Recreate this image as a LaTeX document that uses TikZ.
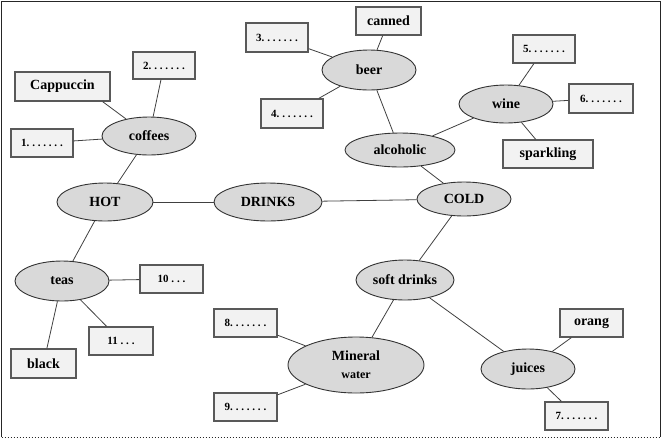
\documentclass[tikz,border=0pt]{standalone}
\usepackage{fontspec}
\setmainfont{Liberation Serif}
\usetikzlibrary{shapes.geometric}
\definecolor{ellfill}{HTML}{D9D9D9}
\definecolor{boxfill}{HTML}{F2F2F2}
\newcommand{\dg}{\kern2.8pt}
\begin{document}
\begin{tikzpicture}[x=1pt,y=-1pt,
  ell/.style={ellipse,draw=black!80,line width=0.9pt,fill=ellfill,inner sep=0pt,
    font=\fontsize{14}{18}\selectfont\bfseries},
  box/.style={rectangle,draw=black!65,line width=1.3pt,fill=boxfill,inner sep=0pt,
    font=\fontsize{14}{14}\selectfont\bfseries},
  num/.style={box,font=\fontsize{11}{11}\selectfont\bfseries},
  link/.style={draw=black!75,line width=0.8pt}]
\useasboundingbox (0,0) rectangle (661,440);
% frame
\draw[black!85,line width=1pt] (1.5,437) -- (1.5,1) -- (660,1) -- (660,437);
\draw[black!85,line width=1pt,dotted] (1.5,437) -- (660,437);

% ellipses
\node[ell,minimum width=94pt,minimum height=38pt] (coffees) at (149,136) {coffees};
\node[ell,minimum width=96pt,minimum height=38pt] (hot) at (105,202) {HOT};
\node[ell,minimum width=108pt,minimum height=38pt] (drinks) at (268,202) {DRINKS};
\node[ell,minimum width=94pt,minimum height=34pt] (cold) at (464,199) {COLD};
\node[ell,minimum width=94pt,minimum height=40pt] (beer) at (369,70) {beer};
\node[ell,minimum width=110pt,minimum height=34pt] (alcoholic) at (400,150) {alcoholic};
\node[ell,minimum width=94pt,minimum height=38pt] (wine) at (506,104) {wine};
\node[ell,minimum width=94pt,minimum height=40pt] (teas) at (62,281) {teas};
\node[ell,minimum width=98pt,minimum height=40pt] (soft) at (405,280) {soft drinks};
\node[ell,minimum width=136pt,minimum height=56pt,align=center] (mineral) at (356,365)
  {Mineral\\{\fontsize{12}{12}\selectfont water}};
\node[ell,minimum width=94pt,minimum height=40pt] (juices) at (528,369) {juices};

% boxes
\node[box,minimum width=95pt,minimum height=29pt] (cap) at (62.5,86.5) {Cappuccin};
\node[num,minimum width=62pt,minimum height=27pt] (n2) at (164,65.5) {2.\dg.\dg.\dg.\dg.\dg.\dg.};
\node[num,minimum width=62pt,minimum height=28pt] (n1) at (42,143) {1.\dg.\dg.\dg.\dg.\dg.\dg.};
\node[box,minimum width=65pt,minimum height=28pt] (canned) at (388.5,21) {canned};
\node[num,minimum width=62pt,minimum height=29pt] (n3) at (277,37.5) {3.\dg.\dg.\dg.\dg.\dg.\dg.};
\node[num,minimum width=62pt,minimum height=29pt] (n4) at (292,113.5) {4.\dg.\dg.\dg.\dg.\dg.\dg.};
\node[num,minimum width=62pt,minimum height=28pt] (n5) at (544,49) {5.\dg.\dg.\dg.\dg.\dg.\dg.};
\node[num,minimum width=64pt,minimum height=29pt] (n6) at (601,98.5) {6.\dg.\dg.\dg.\dg.\dg.\dg.};
\node[box,minimum width=90pt,minimum height=28pt] (spark) at (548,154) {sparkling};
\node[num,minimum width=63pt,minimum height=28pt] (n10) at (171.5,279) {10\dg.\dg.\dg.};
\node[num,minimum width=64pt,minimum height=28pt] (n11) at (121,341) {11\dg.\dg.\dg.};
\node[box,minimum width=65pt,minimum height=29pt] (black) at (43.5,363.5) {black};
\node[num,minimum width=63pt,minimum height=28pt] (n8) at (245.5,323) {8.\dg.\dg.\dg.\dg.\dg.\dg.};
\node[num,minimum width=63pt,minimum height=28pt] (n9) at (245.5,407) {9.\dg.\dg.\dg.\dg.\dg.\dg.};
\node[box,minimum width=63pt,minimum height=28pt] (orang) at (591.5,323) {orang};
\node[num,minimum width=63pt,minimum height=28pt] (n7) at (576.5,416) {7.\dg.\dg.\dg.\dg.\dg.\dg.};

% connectors
\draw[link] ([xshift=-8pt]cap.south east) -- (coffees);
\draw[link] (n2) -- (coffees);
\draw[link] (n1) -- (coffees);
\draw[link] (coffees) -- (hot);
\draw[link] (hot) -- (drinks);
\draw[link] (drinks) -- (cold);
\draw[link] (hot) -- (teas);
\draw[link] (teas) -- (n10);
\draw[link] (teas) -- (n11);
\draw[link] (teas) -- (black);
\draw[link] (beer) -- (canned);
\draw[link] (beer) -- (n3);
\draw[link] (beer) -- (n4);
\draw[link] (beer) -- (alcoholic);
\draw[link] (alcoholic) -- (wine);
\draw[link] (wine) -- (n5);
\draw[link] (wine) -- (n6);
\draw[link] (wine) -- (spark);
\draw[link] (alcoholic) -- (cold);
\draw[link] (cold) -- (soft);
\draw[link] (soft) -- (mineral);
\draw[link] (soft) -- (juices);
\draw[link] (mineral) -- (n8);
\draw[link] (mineral) -- (n9);
\draw[link] (juices) -- (orang);
\draw[link] (juices) -- (n7);
\end{tikzpicture}
\end{document}
